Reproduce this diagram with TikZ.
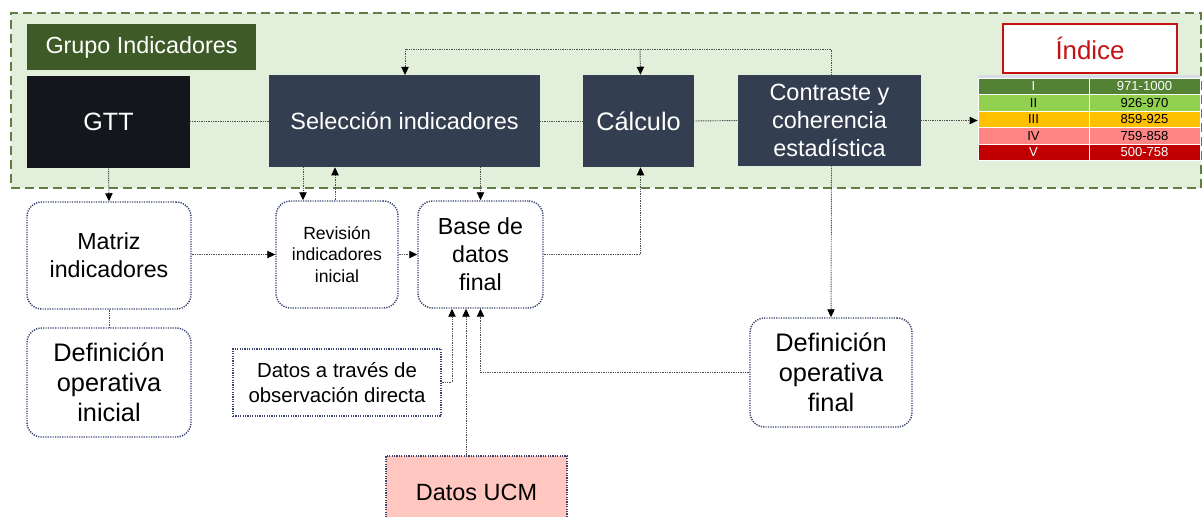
\documentclass[tikz,border=0pt]{standalone}
\usepackage{fontspec}
\setmainfont{Liberation Sans}
\usetikzlibrary{arrows.meta,calc}
\definecolor{bgg}{RGB}{226,239,218}
\definecolor{grpborder}{RGB}{96,125,70}
\definecolor{grpgreen}{RGB}{61,90,39}
\definecolor{gttblack}{RGB}{19,23,28}
\definecolor{slate}{RGB}{51,63,80}
\definecolor{navyb}{RGB}{55,68,110}
\definecolor{connc}{RGB}{78,78,78}
\definecolor{pinkb}{RGB}{255,199,192}
\definecolor{redi}{RGB}{196,18,18}
\definecolor{rowa}{RGB}{84,130,53}
\definecolor{rowb}{RGB}{146,208,80}
\definecolor{rowc}{RGB}{255,192,0}
\definecolor{rowd}{RGB}{255,133,133}
\definecolor{rowe}{RGB}{192,0,0}
\definecolor{hdrc}{RGB}{215,222,232}
\newcommand\fsz[2]{\fontsize{#1}{#2}\selectfont}
\begin{document}
\begin{tikzpicture}[x=0.75pt,y=-0.75pt,
  darkbox/.style={fill=slate,text=white,inner sep=0,align=center,font=\fsz{17.6}{21}},
  rbox/.style={draw=navyb,line width=1.1pt,dash pattern=on 0.9pt off 0.9pt,rounded corners=11pt,fill=white,inner sep=0,align=center,font=\fsz{17.4}{21}},
  sbox/.style={draw=navyb,line width=1.1pt,dash pattern=on 0.9pt off 0.9pt,inner sep=0,align=center},
  conn/.style={draw=connc,line width=0.7pt,dash pattern=on 0.7pt off 0.6pt},
  arr/.style={-{Triangle[length=6pt,width=5.5pt,fill=black,color=black]}},
  cell/.style={draw=white,line width=0.6pt,minimum width=83.25pt,minimum height=12.375pt,inner sep=0,font=\fsz{9.8}{11}}]
\useasboundingbox (0,0) rectangle (1203,517);

% group frame
\node[draw=grpborder,fill=bgg,line width=1.5pt,dash pattern=on 6.75pt off 3.75pt,
      minimum width=892.5pt,minimum height=131.25pt,inner sep=0] (grp) at (606,100.5) {};
\node[fill=grpgreen,text=white,minimum width=171.75pt,minimum height=34.5pt,inner sep=0,font=\fsz{17.5}{21}] (glabel) at (141.5,47) {Grupo Indicadores};

% top row
\node[fill=gttblack,text=white,minimum width=122.25pt,minimum height=68.25pt,inner sep=0,font=\fsz{18.8}{22}] (gtt) at (108.5,122) {GTT};
\node[darkbox,minimum width=203.25pt,minimum height=69pt] (sel) at (404.5,121) {Selección indicadores};
\node[darkbox,minimum width=83.25pt,minimum height=69pt,font=\fsz{19}{22}] (calc) at (638.5,121) {Cálculo};
\node[darkbox,minimum width=137.25pt,minimum height=68.25pt] (contr) at (829.5,120.5) {Contraste y\\coherencia\\estadística};

% indice
\node[draw=redi,line width=1.4pt,fill=white,text=redi,minimum width=130.5pt,minimum height=36.75pt,inner sep=0,font=\fsz{19.4}{22}] (indice) at (1090,48.5) {Índice};
\node[fill=hdrc,minimum width=166.5pt,minimum height=2.25pt,inner sep=0] (hdr) at (1089,76.5) {};
\node[cell,fill=rowa,text=white] (r1a) at (1033.5,86.25) {I};
\node[cell,fill=rowa,text=white] (r1b) at (1144.5,86.25) {971-1000};
\node[cell,fill=rowb] (r2a) at (1033.5,102.75) {II};
\node[cell,fill=rowb] (r2b) at (1144.5,102.75) {926-970};
\node[cell,fill=rowc] (r3a) at (1033.5,119.25) {III};
\node[cell,fill=rowc] (r3b) at (1144.5,119.25) {859-925};
\node[cell,fill=rowd] (r4a) at (1033.5,135.75) {IV};
\node[cell,fill=rowd] (r4b) at (1144.5,135.75) {759-858};
\node[cell,fill=rowe,text=white] (r5a) at (1033.5,152.25) {V};
\node[cell,fill=rowe,text=white] (r5b) at (1144.5,152.25) {500-758};

% lower nodes
\node[rbox,minimum width=123pt,minimum height=80.25pt] (matriz) at (109,255.5) {Matriz\\indicadores};
\node[rbox,minimum width=123pt,minimum height=81.75pt,font=\fsz{19}{22.5}] (defini) at (109,382.5) {Definición\\operativa\\inicial};
\node[rbox,minimum width=91.5pt,minimum height=80.25pt,font=\fsz{13.2}{16.3}] (rev) at (337,254.5) {Revisión\\indicadores\\inicial};
\node[rbox,minimum width=93.75pt,minimum height=80.25pt] (base) at (480.5,254.5) {Base de\\datos\\final};
\node[sbox,fill=white,minimum width=156pt,minimum height=50.25pt,font=\fsz{15.3}{18.75}] (obs) at (337,382.5) {Datos a través de\\observación directa};
\node[sbox,fill=pinkb,minimum width=135.75pt,minimum height=54pt,font=\fsz{17.6}{21}] (ucm) at (476.5,492) {Datos UCM};
\node[rbox,minimum width=121.5pt,minimum height=81.75pt,font=\fsz{19}{22.5}] (deffin) at (831,372.5) {Definición\\operativa\\final};

% coordinates
\coordinate (topy) at (0,49);

% connectors top row
\draw[conn] (gtt.east |- sel.west) -- (sel.west);
\draw[conn] (sel.east) -- (calc.west);
\draw[conn] (calc.east) -- (contr.west);
\draw[conn,arr] (contr.east) -- (contr.east -| r3a.west);

% feedback loop on top
\draw[conn,arr] ([xshift=1.5]contr.north) |- (405,49) -- (405,75);
\draw[conn,arr] (calc.north |- topy) ++(1.5,0) -- ([xshift=1.5]calc.north);

% down links
\draw[conn,arr] (gtt.south) -- (matriz.north);
\draw[conn] (matriz.south) -- (defini.north);
\draw[conn,arr] (matriz.east |- rev.west) -- (rev.west);
\draw[conn,arr] (rev.east) -- (base.west);
\draw[conn,arr] (sel.south -| 303,0) -- (rev.north -| 303,0);
\draw[conn,arr] (rev.north -| 335,0) -- (sel.south -| 335,0);
\draw[conn,arr] (sel.south -| base.north) -- (base.north);
\draw[conn,arr] (base.east) -| ([xshift=1.5]calc.south);
\draw[conn,arr] ([xshift=1.5]contr.south) -- (deffin.north);

% inputs into base
\draw[conn,arr] (obs.east) -| (base.south -| 452,0);
\draw[conn,arr] (ucm.north -| 466,0) -- (base.south -| 466,0);
\draw[conn,arr] (deffin.west) -| (base.south);
\end{tikzpicture}
\end{document}
